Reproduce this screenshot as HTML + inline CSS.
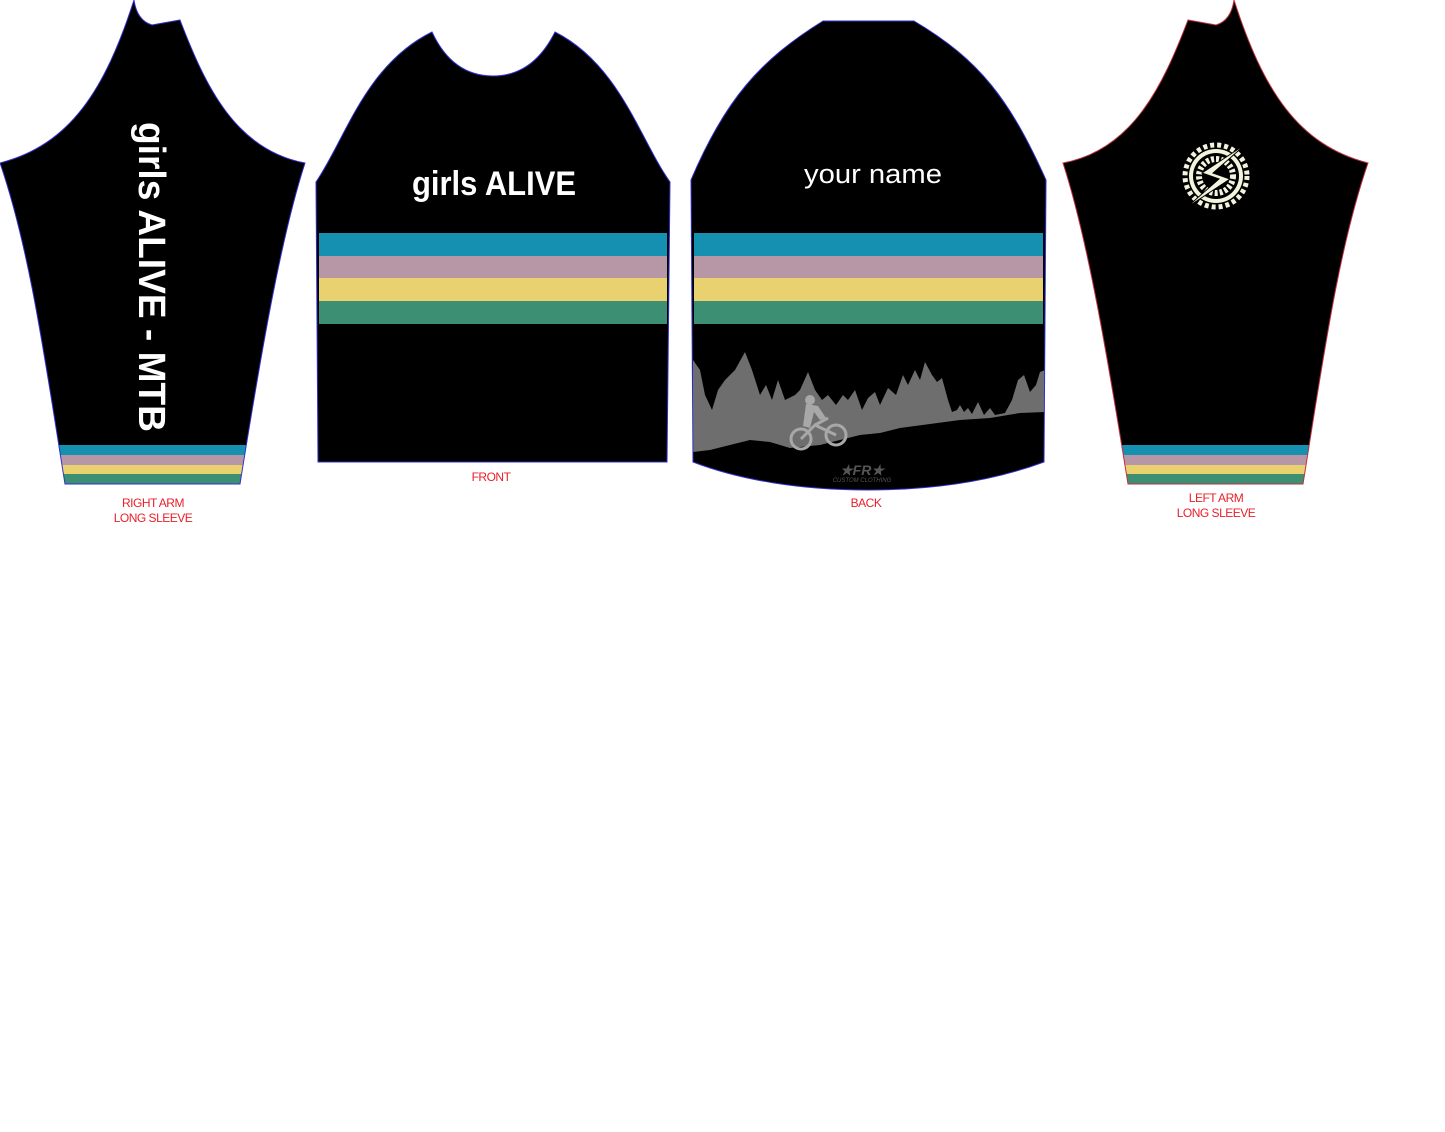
<!DOCTYPE html>
<html><head><meta charset="utf-8"><style>
html,body{margin:0;padding:0;background:#fff;width:1445px;height:1132px;overflow:hidden}
svg{display:block}
text{font-family:"Liberation Sans",sans-serif}
</style></head><body>
<svg width="1445" height="1132" viewBox="0 0 1445 1132" xmlns="http://www.w3.org/2000/svg">
<defs>
<clipPath id="ra"><path d="M134,0 C136,14 142,22 152,25 L180,20 C205,85 235,150 305,163 C280,240 260,360 240,484 L65,484 C45,360 30,250 0,163 C70,145 105,90 134,0 Z"/></clipPath>
<clipPath id="la"><path d="M1234,0 C1232,14 1226,22 1216,25 L1188,20 C1163,85 1133,150 1063,163 C1088,240 1108,360 1128,484 L1303,484 C1323,360 1338,250 1368,163 C1298,145 1263,90 1234,0 Z"/></clipPath>
<clipPath id="fr"><path d="M432,32 C445,60 465,76 493,76 C521,76 541,60 555,32 C620,65 640,140 670,182 L667,462 L318,462 L316,182 C345,140 365,65 432,32 Z"/></clipPath>
<clipPath id="bk"><path d="M823,21 L914,21 C980,60 1010,100 1046,180 L1044,462 C990,482 930,490 868,490 C800,490 740,480 693,462 L691,180 C725,100 760,60 823,21 Z"/></clipPath>
</defs>

<g clip-path="url(#ra)">
<rect x="0" y="0" width="310" height="490" fill="#000"/>
<rect x="0" y="445" width="310" height="10" fill="#1590b0"/>
<rect x="0" y="455" width="310" height="10" fill="#b797a6"/>
<rect x="0" y="465" width="310" height="9" fill="#ead170"/>
<rect x="0" y="474" width="310" height="10" fill="#3d8f74"/>
</g>
<path d="M134,0 C136,14 142,22 152,25 L180,20 C205,85 235,150 305,163 C280,240 260,360 240,484 L65,484 C45,360 30,250 0,163 C70,145 105,90 134,0 Z" fill="none" stroke="#3030d0" stroke-width="1"/>
<text transform="translate(139,277) rotate(90)" text-anchor="middle" font-size="38" fill="#fff" font-weight="bold" textLength="310" lengthAdjust="spacingAndGlyphs">girls ALIVE  - MTB</text>
<text x="153" y="507" text-anchor="middle" font-size="12" fill="#e8202a" letter-spacing="-0.5">RIGHT ARM</text>
<text x="153" y="522" text-anchor="middle" font-size="12" fill="#e8202a" letter-spacing="-0.5">LONG SLEEVE</text>

<g clip-path="url(#fr)">
<rect x="310" y="20" width="370" height="450" fill="#000"/>
<rect x="319" y="233" width="348" height="23" fill="#1590b0"/>
<rect x="319" y="256" width="348" height="22" fill="#b797a6"/>
<rect x="319" y="278" width="348" height="23" fill="#ead170"/>
<rect x="319" y="301" width="348" height="23" fill="#3d8f74"/>
</g>
<path d="M432,32 C445,60 465,76 493,76 C521,76 541,60 555,32 C620,65 640,140 670,182 L667,462 L318,462 L316,182 C345,140 365,65 432,32 Z" fill="none" stroke="#3030d0" stroke-width="1"/>
<text x="494" y="195" text-anchor="middle" font-size="34" fill="#fff" font-weight="bold" textLength="164" lengthAdjust="spacingAndGlyphs">girls ALIVE</text>
<text x="491" y="481" text-anchor="middle" font-size="12" fill="#e8202a" letter-spacing="-0.5">FRONT</text>

<g clip-path="url(#bk)">
<rect x="680" y="10" width="380" height="490" fill="#000"/>
<rect x="694" y="233" width="349" height="23" fill="#1590b0"/>
<rect x="694" y="256" width="349" height="22" fill="#b797a6"/>
<rect x="694" y="278" width="349" height="23" fill="#ead170"/>
<rect x="694" y="301" width="349" height="23" fill="#3d8f74"/>
<polygon fill="#6e6e6e" points="693,360 700,370 705,395 712,410 718,390 725,380 735,370 745,352 752,370 760,395 766,385 772,400 778,380 785,400 795,395 800,390 808,372 815,390 822,400 828,395 836,405 843,395 848,400 855,390 862,410 868,398 875,392 880,405 888,388 896,395 903,375 908,385 915,370 920,380 925,362 932,375 937,382 942,378 948,400 952,412 957,410 960,405 964,412 968,408 972,414 978,402 984,415 990,408 995,415 1005,413 1012,400 1018,380 1024,375 1030,392 1036,385 1040,372 1045,370 1045,412 1020,413 990,418 960,420 930,424 900,428 880,433 860,435 840,440 820,445 790,448 770,442 750,440 730,445 710,450 693,452"/>
<g fill="none" stroke="#a8a8a8" stroke-width="3">
<circle cx="801" cy="439" r="10"/><circle cx="836" cy="435" r="10"/>
<path d="M801,439 L815,425 L836,435 M815,425 L828,418"/>
</g>
<circle cx="810" cy="400" r="5" fill="#a8a8a8"/>
<path d="M806,404 L818,406 L826,418 L820,420 L814,412 L810,428 L803,426 Z" fill="#a8a8a8"/>
<text x="862" y="475" text-anchor="middle" font-size="14" fill="#555" font-style="italic" font-weight="bold">★FR★</text>
<text x="862" y="482" text-anchor="middle" font-size="6" fill="#555" font-style="italic">CUSTOM CLOTHING</text>
</g>
<path d="M823,21 L914,21 C980,60 1010,100 1046,180 L1044,462 C990,482 930,490 868,490 C800,490 740,480 693,462 L691,180 C725,100 760,60 823,21 Z" fill="none" stroke="#3030d0" stroke-width="1"/>
<text x="873" y="183" text-anchor="middle" font-size="27" fill="#fff" textLength="138" lengthAdjust="spacingAndGlyphs">your name</text>
<text x="866" y="507" text-anchor="middle" font-size="12" fill="#e8202a" letter-spacing="-0.5">BACK</text>

<g clip-path="url(#la)">
<rect x="1060" y="0" width="310" height="490" fill="#000"/>
<rect x="1060" y="445" width="310" height="10" fill="#1590b0"/>
<rect x="1060" y="455" width="310" height="10" fill="#b797a6"/>
<rect x="1060" y="465" width="310" height="9" fill="#ead170"/>
<rect x="1060" y="474" width="310" height="10" fill="#3d8f74"/>
</g>
<path d="M1234,0 C1232,14 1226,22 1216,25 L1188,20 C1163,85 1133,150 1063,163 C1088,240 1108,360 1128,484 L1303,484 C1323,360 1338,250 1368,163 C1298,145 1263,90 1234,0 Z" fill="none" stroke="#c03040" stroke-width="1"/>
<g transform="translate(1216,176)">
<circle r="31" fill="none" stroke="#f4f4dc" stroke-width="5" stroke-dasharray="4 3"/>
<circle r="27" fill="#f4f4dc"/>
<circle r="23" fill="#000"/>
<circle r="17" fill="none" stroke="#f4f4dc" stroke-width="6" stroke-dasharray="3 2"/>
<circle r="11" fill="#000"/>
<polygon points="30,-32 -14,-3 3,3 -30,32 14,3 -3,-3" fill="#f4f4dc" stroke="#000" stroke-width="1"/>
</g>
<text x="1216" y="502" text-anchor="middle" font-size="12" fill="#e8202a" letter-spacing="-0.5">LEFT ARM</text>
<text x="1216" y="517" text-anchor="middle" font-size="12" fill="#e8202a" letter-spacing="-0.5">LONG SLEEVE</text>
</svg>
</body></html>
